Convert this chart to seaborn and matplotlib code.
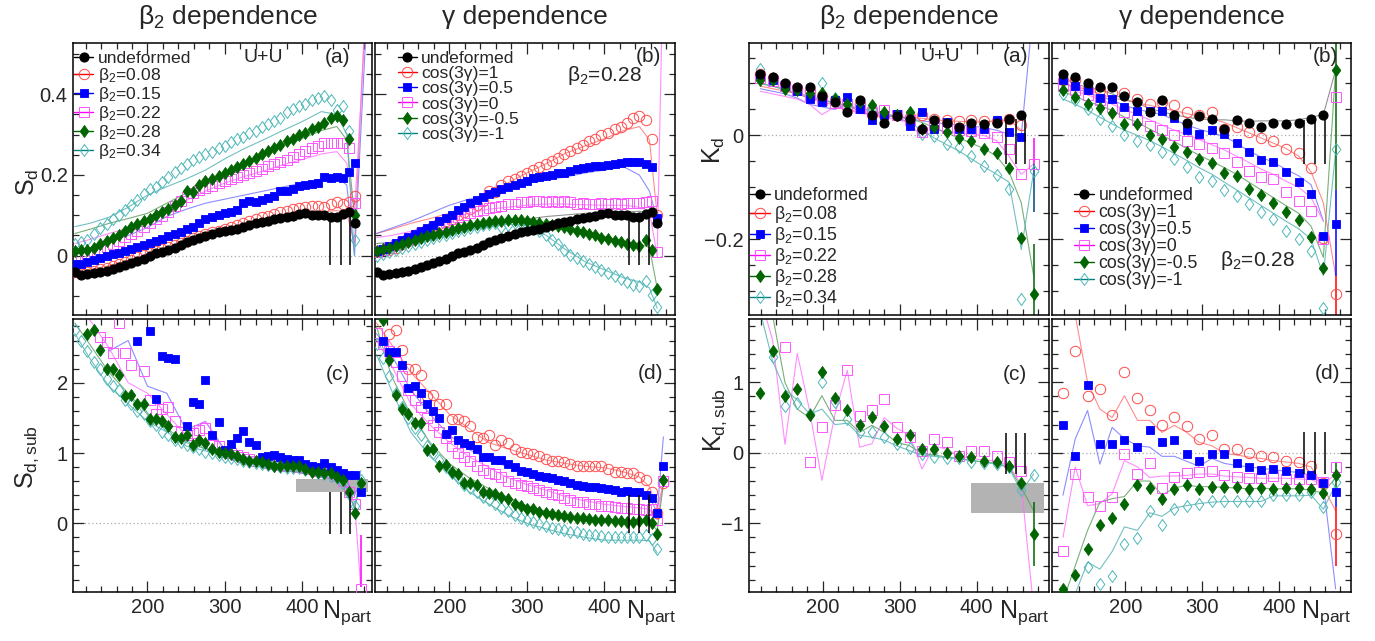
import numpy as np
import matplotlib
matplotlib.use("Agg")
import matplotlib.pyplot as plt
from matplotlib.lines import Line2D
from matplotlib.patches import Rectangle
from matplotlib.ticker import MultipleLocator, FuncFormatter
import seaborn as sns

nan = np.nan

# ------------------------------------------------------------------ data
NPART = [106, 114, 122, 131, 139, 147, 155, 163, 171, 179,
         187, 195, 203, 211, 219, 227, 235, 243, 251, 259,
         267, 275, 284, 292, 300, 308, 316, 324, 332, 340,
         348, 356, 364, 372, 380, 388, 396, 404, 413, 421,
         429, 437, 445, 453, 461, 468, 476]
NPART_LT = [106, 125, 150, 175, 200, 225, 250, 275, 300, 325, 350, 375, 400, 425, 445, 458, 468, 484]
NPART_LB = [106, 125, 150, 175, 200, 225, 250, 275, 300, 325, 350, 375, 400, 425, 445, 458, 468, 476]
NPART_K = [119, 135, 151, 167, 183, 199, 216, 232, 248, 264, 280, 296,
           313, 329, 345, 361, 377, 393, 409, 426, 442, 458, 474]

LEG_B2 = ["undeformed", "β$_2$=0.08", "β$_2$=0.15", "β$_2$=0.22", "β$_2$=0.28", "β$_2$=0.34"]
LEG_G = ["undeformed", "cos(3γ)=1", "cos(3γ)=0.5", "cos(3γ)=0", "cos(3γ)=-0.5", "cos(3γ)=-1"]

# S_d  (markers)
sd_undef = [-0.040, -0.047, -0.046, -0.044, -0.041, -0.037, -0.033, -0.028, -0.023, -0.018,
            -0.012, -0.007, -0.002, 0.006, 0.010, 0.015, 0.019, 0.027, 0.033, 0.038,
            0.043, 0.048, 0.053, 0.058, 0.061, 0.064, 0.067, 0.071, 0.075, 0.080,
            0.083, 0.087, 0.090, 0.094, 0.097, 0.099, 0.104, 0.105, 0.102, 0.102,
            0.100, 0.097, 0.095, 0.103, 0.107, 0.082, nan]
sd_b008 = [-0.040, -0.043, -0.041, -0.037, -0.033, -0.030, -0.026, -0.021, -0.015, -0.010,
           -0.004, 0.001, 0.006, 0.012, 0.017, 0.021, 0.026, 0.031, 0.037, 0.043,
           0.049, 0.053, 0.058, 0.062, 0.067, 0.071, 0.076, 0.082, 0.087, 0.090,
           0.095, 0.099, 0.104, 0.107, 0.111, 0.116, 0.119, 0.121, 0.123, 0.122,
           0.120, 0.128, 0.134, 0.128, 0.134, 0.148, nan]
sd_b015 = [-0.020, -0.020, -0.016, -0.011, -0.006, -0.001, 0.003, 0.007, 0.011, 0.016,
           0.022, 0.027, 0.032, 0.037, 0.042, 0.048, 0.054, 0.059, 0.065, 0.072,
           0.082, 0.090, 0.097, 0.102, 0.106, 0.109, 0.113, 0.130, 0.135, 0.132,
           0.139, 0.144, 0.148, 0.160, 0.161, 0.166, 0.172, 0.176, 0.177, 0.180,
           0.196, 0.193, 0.195, 0.193, 0.208, 0.230, nan]
sd_b022 = [-0.005, 0.000, 0.003, 0.008, 0.014, 0.021, 0.028, 0.037, 0.046, 0.053,
           0.061, 0.070, 0.082, 0.090, 0.099, 0.108, 0.122, 0.136, 0.146, 0.155,
           0.162, 0.167, 0.172, 0.180, 0.186, 0.191, 0.196, 0.200, 0.205, 0.210,
           0.214, 0.221, 0.226, 0.233, 0.238, 0.244, 0.251, 0.259, 0.267, 0.272,
           0.278, 0.280, 0.280, 0.278, 0.268, 0.130, nan]
sd_b028 = [0.012, 0.015, 0.013, 0.020, 0.029, 0.036, 0.043, 0.052, 0.062, 0.070,
           0.078, 0.085, 0.092, 0.100, 0.108, 0.116, 0.125, 0.135, 0.160, 0.158,
           0.175, 0.185, 0.191, 0.197, 0.205, 0.212, 0.219, 0.227, 0.234, 0.243,
           0.252, 0.260, 0.268, 0.275, 0.284, 0.290, 0.298, 0.305, 0.315, 0.320,
           0.330, 0.340, 0.345, 0.335, 0.290, 0.100, nan]
sd_b034 = [0.030, 0.035, 0.040, 0.054, 0.068, 0.078, 0.090, 0.100, 0.113, 0.125,
           0.138, 0.152, 0.165, 0.170, 0.183, 0.194, 0.207, 0.217, 0.226, 0.236,
           0.244, 0.251, 0.258, 0.266, 0.273, 0.281, 0.290, 0.295, 0.303, 0.309,
           0.318, 0.327, 0.333, 0.342, 0.355, 0.364, 0.372, 0.377, 0.385, 0.390,
           0.395, 0.385, 0.360, 0.370, 0.310, 0.040, nan]
sd_g05 = [0.012, 0.017, 0.023, 0.031, 0.038, 0.046, 0.053, 0.060, 0.068, 0.077,
          0.085, 0.093, 0.102, 0.112, 0.121, 0.131, 0.138, 0.146, 0.152, 0.159,
          0.165, 0.169, 0.174, 0.180, 0.186, 0.192, 0.196, 0.198, 0.201, 0.205,
          0.205, 0.209, 0.214, 0.217, 0.219, 0.221, 0.223, 0.225, 0.226, 0.230,
          0.233, 0.232, 0.232, 0.228, 0.220, 0.093, nan]
sd_g0 = [0.010, 0.014, 0.019, 0.026, 0.033, 0.040, 0.047, 0.055, 0.062, 0.069,
         0.076, 0.083, 0.090, 0.096, 0.101, 0.105, 0.110, 0.114, 0.117, 0.120,
         0.124, 0.127, 0.129, 0.132, 0.134, 0.135, 0.136, 0.134, 0.136, 0.132,
         0.135, 0.132, 0.128, 0.130, 0.127, 0.128, 0.130, 0.128, 0.130, 0.128,
         0.130, 0.130, 0.131, 0.132, 0.135, 0.010, nan]
sd_gm05 = [0.012, 0.016, 0.020, 0.025, 0.030, 0.034, 0.039, 0.044, 0.049, 0.052,
           0.056, 0.059, 0.063, 0.068, 0.072, 0.076, 0.078, 0.081, 0.084, 0.086,
           0.087, 0.088, 0.089, 0.088, 0.086, 0.084, 0.082, 0.079, 0.077, 0.074,
           0.070, 0.066, 0.062, 0.058, 0.054, 0.050, 0.045, 0.041, 0.037, 0.033,
           0.029, 0.026, 0.025, 0.040, 0.014, -0.082, nan]
sd_gm1 = [0.000, 0.004, 0.009, 0.014, 0.019, 0.024, 0.029, 0.034, 0.039, 0.044,
          0.048, 0.052, 0.056, 0.060, 0.064, 0.068, 0.072, 0.076, 0.078, 0.080,
          0.072, 0.077, 0.081, 0.080, 0.074, 0.068, 0.060, 0.051, 0.040, 0.028,
          0.014, 0.002, -0.006, -0.013, -0.020, -0.027, -0.035, -0.043, -0.051, -0.059,
          -0.066, -0.072, -0.075, -0.062, -0.097, -0.126, nan]

# S_d  (model curves)
sdl_b008 = [-0.035, -0.035, -0.025, -0.012, 0.003, 0.017, 0.030, 0.044, 0.057, 0.069, 0.081, 0.092, 0.102, 0.108, 0.112, 0.105, 0.030, 0.70]
sdl_b015 = [0.012, 0.020, 0.035, 0.050, 0.070, 0.097, 0.115, 0.130, 0.140, 0.150, 0.160, 0.170, 0.180, 0.190, 0.195, 0.175, 0.000, 0.60]
sdl_b022 = [0.030, 0.040, 0.055, 0.068, 0.085, 0.113, 0.137, 0.160, 0.180, 0.196, 0.210, 0.225, 0.238, 0.252, 0.258, 0.229, 0.105, 0.65]
sdl_b028 = [0.055, 0.065, 0.080, 0.092, 0.105, 0.130, 0.155, 0.180, 0.205, 0.228, 0.254, 0.272, 0.290, 0.310, 0.320, 0.287, 0.100, nan]
sdl_b034 = [0.072, 0.080, 0.095, 0.120, 0.150, 0.171, 0.190, 0.212, 0.240, 0.265, 0.287, 0.310, 0.332, 0.357, 0.350, 0.300, 0.000, nan]
sdl_undef = [0.030, 0.033, 0.040, 0.048, 0.058, 0.068, 0.076, 0.084, 0.091, 0.097, 0.101, 0.105, 0.107, 0.108, 0.110, 0.105, 0.090, nan]
sdl_g05 = [0.055, 0.068, 0.085, 0.105, 0.125, 0.140, 0.150, 0.165, 0.180, 0.188, 0.195, 0.205, 0.212, 0.220, 0.200, 0.160, 0.088, nan]
sdl_g0 = [0.045, 0.050, 0.060, 0.075, 0.090, 0.105, 0.115, 0.120, 0.125, 0.128, 0.128, 0.126, 0.125, 0.125, 0.120, 0.110, 0.000, 1.50]
sdl_gm05 = [0.020, 0.028, 0.040, 0.050, 0.060, 0.072, 0.080, 0.085, 0.085, 0.080, 0.072, 0.060, 0.048, 0.035, 0.030, 0.020, -0.080, nan]
sdl_gm1 = [0.005, 0.012, 0.025, 0.038, 0.050, 0.062, 0.072, 0.078, 0.075, 0.050, 0.015, -0.015, -0.035, -0.055, -0.065, -0.080, -0.130, nan]

# S_d,sub (markers)
sds_b015 = [nan, nan, nan, nan, nan, nan, nan, nan, nan, nan,
            2.60, nan, 2.74, 1.77, 2.38, 2.35, 2.33, nan, 1.38, 1.73,
            1.70, 2.04, 1.26, 1.44, 1.04, 1.13, 1.21, 1.32, 1.16, 1.11,
            0.95, 0.96, 0.97, 0.94, 0.92, 0.90, 0.90, 0.85, 0.82, 0.80,
            0.86, 0.80, 0.76, 0.71, 0.69, 0.69, 0.45]
sds_b022 = [nan, nan, nan, nan, 2.65, 2.58, 2.42, 2.85, 2.42, 2.25,
            nan, 2.16, 1.75, 1.55, 1.62, 1.66, 1.45, 1.30, 1.25, 1.28,
            1.33, 1.35, 1.12, 1.10, 1.02, 1.00, 0.97, 0.94, 0.91, 0.89,
            0.88, 0.86, 0.85, 0.83, 0.82, 0.82, 0.80, 0.79, 0.77, 0.75,
            0.73, 0.71, 0.68, 0.60, 0.45, 0.27, -0.94]
sds_b028 = [nan, nan, 2.69, 2.75, 2.46, 2.19, 2.19, 2.11, 1.81, 1.83,
            1.69, 1.69, 1.48, 1.48, 1.46, 1.38, 1.23, 1.21, 1.26, 1.11,
            1.18, 1.14, 1.05, 1.02, 1.00, 0.99, 0.96, 0.91, 0.89, 0.89,
            0.87, 0.84, 0.82, 0.82, 0.81, 0.82, 0.81, 0.77, 0.73, 0.73,
            0.71, 0.71, 0.66, 0.62, 0.44, 0.15, 0.58]
sds_b034 = [2.75, 2.60, 2.45, 2.30, 2.20, 2.05, 1.95, 1.90, 1.75, 1.70,
            1.60, 1.55, 1.45, 1.40, 1.30, 1.25, 1.18, 1.15, 1.12, 1.08,
            1.05, 1.02, 1.00, 0.97, 0.95, 0.93, 0.91, 0.89, 0.87, 0.86,
            0.85, 0.83, 0.81, 0.80, 0.79, 0.79, 0.78, 0.76, 0.74, 0.72,
            0.70, 0.68, 0.64, 0.58, 0.42, 0.25, 0.62]
sds_g05 = [nan, 2.60, 2.44, 2.44, 2.25, 1.92, 1.95, 1.85, 1.69, 1.60,
           1.50, 1.27, 1.33, 1.19, 1.14, 1.11, 1.05, 0.95, 0.95, 0.90,
           0.90, 0.85, 0.80, 0.75, 0.73, 0.70, 0.68, 0.66, 0.64, 0.62,
           0.60, 0.57, 0.55, 0.53, 0.52, 0.51, 0.50, 0.49, 0.47, 0.45,
           0.46, 0.45, 0.44, 0.40, 0.36, 0.14, 0.81]
sds_g0 = [2.70, 2.55, 2.45, 2.30, 2.10, 1.90, 1.75, 1.65, 1.50, 1.40,
          1.30, 1.22, 1.10, 1.00, 0.95, 0.88, 0.82, 0.76, 0.72, 0.70,
          0.66, 0.60, 0.57, 0.55, 0.53, 0.50, 0.48, 0.45, 0.42, 0.40,
          0.36, 0.33, 0.31, 0.30, 0.28, 0.27, 0.25, 0.24, 0.23, 0.22,
          0.22, 0.21, 0.20, 0.19, 0.20, 0.05, 0.60]
sds_gm05 = [nan, 2.89, 2.32, 1.82, 1.63, 1.55, 1.42, 1.42, 1.04, 1.05,
            0.81, 0.83, 0.73, 0.70, 0.58, 0.57, 0.55, 0.44, 0.43, 0.42,
            0.38, 0.34, 0.27, 0.24, 0.21, 0.20, 0.16, 0.14, 0.13, 0.12,
            0.10, 0.095, 0.08, 0.07, 0.06, 0.05, 0.04, 0.04, 0.03, 0.03,
            0.02, 0.02, 0.03, 0.05, 0.00, -0.15, 0.62]
sds_gm1 = [2.55, 2.35, 2.10, 1.85, 1.65, 1.50, 1.35, 1.25, 1.10, 1.00,
           0.90, 0.80, 0.72, 0.65, 0.55, 0.50, 0.45, 0.38, 0.33, 0.28,
           0.22, 0.17, 0.12, 0.08, 0.05, 0.02, -0.01, -0.04, -0.06, -0.08,
           -0.10, -0.12, -0.13, -0.15, -0.16, -0.17, -0.18, -0.19, -0.19, -0.20,
           -0.20, -0.20, -0.19, -0.17, -0.22, -0.36, nan]

# S_d,sub (model curves)
sdsl_b015 = [nan, nan, 2.45, 2.60, 1.95, 1.85, 1.33, 1.45, 1.05, 0.95, 0.90, 0.86, 0.83, 0.77, 0.71, 0.60, 0.40, 0.60]
sdsl_b022 = [nan, 2.90, 2.50, 2.00, 1.85, 1.55, 1.25, 1.45, 1.02, 0.93, 0.87, 0.83, 0.80, 0.75, 0.68, 0.50, 0.30, -0.90]
sdsl_b028 = [2.85, 2.55, 2.15, 1.85, 1.55, 1.35, 1.15, 1.06, 0.98, 0.90, 0.85, 0.81, 0.79, 0.73, 0.66, 0.52, 0.22, 0.55]
sdsl_b034 = [2.70, 2.35, 1.95, 1.70, 1.45, 1.30, 1.10, 1.03, 0.95, 0.88, 0.84, 0.80, 0.78, 0.72, 0.66, 0.50, 0.20, 0.75]
sdsl_g05 = [2.70, 2.40, 1.90, 1.55, 1.25, 1.05, 0.92, 0.80, 0.72, 0.66, 0.60, 0.55, 0.50, 0.46, 0.43, 0.38, 0.15, 1.23]
sdsl_g0 = [2.60, 2.25, 1.70, 1.40, 1.15, 0.95, 0.80, 0.65, 0.55, 0.47, 0.38, 0.32, 0.27, 0.24, 0.22, 0.20, 0.05, 0.60]
sdsl_gm05 = [2.80, 2.10, 1.55, 1.15, 0.85, 0.65, 0.50, 0.37, 0.25, 0.17, 0.12, 0.08, 0.05, 0.03, 0.03, 0.02, -0.10, 0.55]
sdsl_gm1 = [2.40, 1.90, 1.30, 0.95, 0.70, 0.45, 0.28, 0.12, 0.00, -0.08, -0.15, -0.20, -0.24, -0.24, -0.24, -0.25, -0.42, nan]

# K_d (markers)
kd_undef = [0.119, 0.112, 0.100, 0.094, 0.094, 0.075, 0.065, 0.045, 0.068, 0.039, 0.023, 0.037,
            0.032, 0.013, 0.030, 0.023, 0.016, 0.024, 0.021, 0.024, 0.032, 0.039, nan]
kd_b008 = [0.118, 0.110, 0.098, 0.092, 0.085, 0.075, 0.068, 0.055, 0.060, 0.045, 0.040, 0.040,
           0.035, 0.040, 0.032, 0.030, 0.028, 0.030, 0.028, 0.028, 0.032, 0.020, nan]
kd_b015 = [0.116, 0.106, 0.095, 0.085, 0.071, 0.065, 0.068, 0.074, 0.050, 0.029, 0.040, 0.042,
           0.019, 0.045, 0.012, 0.026, 0.013, 0.013, 0.012, 0.029, 0.006, -0.003, nan]
kd_b022 = [0.110, 0.105, 0.095, 0.088, 0.078, 0.068, 0.062, 0.060, 0.052, 0.045, 0.048, 0.040,
           0.030, 0.006, 0.020, 0.015, 0.010, 0.008, 0.005, -0.003, -0.026, -0.074, -0.055]
kd_b028 = [0.106, 0.106, 0.090, 0.087, 0.081, 0.082, 0.071, 0.061, 0.065, 0.058, 0.045, 0.039,
           0.045, 0.013, 0.017, 0.006, -0.005, -0.010, -0.026, -0.034, -0.063, -0.197, -0.306]
kd_b034 = [0.127, 0.110, 0.095, 0.090, 0.080, 0.100, 0.072, 0.060, 0.058, 0.050, 0.042, 0.040,
           0.030, 0.003, -0.002, -0.016, -0.023, -0.039, -0.058, -0.077, -0.103, -0.316, -0.068]
kd_g05 = [0.106, 0.095, 0.088, 0.072, 0.071, 0.054, 0.047, 0.047, 0.047, 0.034, 0.010, 0.002,
          0.011, 0.002, -0.015, -0.032, -0.047, -0.052, -0.071, -0.090, -0.113, -0.194, -0.170]
kd_g0 = [0.095, 0.087, 0.078, 0.068, 0.055, 0.045, 0.030, 0.019, 0.010, 0.000, -0.010, -0.016,
         -0.025, -0.034, -0.052, -0.068, -0.081, -0.084, -0.110, -0.126, -0.145, -0.200, 0.074]
kd_gm05 = [0.088, 0.074, 0.060, 0.052, 0.043, 0.021, 0.021, 0.000, -0.006, -0.023, -0.032, -0.045,
           -0.054, -0.073, -0.079, -0.103, -0.114, -0.131, -0.148, -0.163, -0.195, -0.256, 0.126]
kd_gm1 = [0.080, 0.068, 0.050, 0.032, 0.019, 0.000, -0.010, -0.019, -0.032, -0.045, -0.060, -0.081,
          -0.088, -0.105, -0.116, -0.132, -0.148, -0.161, -0.184, -0.200, -0.223, -0.332, -0.026]

# K_d (model curves)
kdl_b008 = [0.095, 0.090, 0.085, 0.080, 0.072, 0.065, 0.058, 0.050, 0.045, 0.040, 0.038, 0.036,
            0.034, 0.033, 0.030, 0.028, 0.027, 0.026, 0.026, 0.028, 0.030, 0.010, nan]
kdl_b015 = [0.090, 0.085, 0.080, 0.072, 0.060, 0.055, 0.050, 0.060, 0.045, 0.040, 0.038, 0.036,
            0.032, 0.028, 0.025, 0.022, 0.020, 0.018, 0.015, 0.010, 0.002, 0.000, 0.250]
kdl_b022 = [0.085, 0.080, 0.075, 0.070, 0.060, 0.040, 0.055, 0.050, 0.042, 0.040, 0.036, 0.030,
            0.025, -0.005, 0.010, 0.008, 0.005, 0.002, 0.000, -0.010, -0.040, -0.075, -0.055]
kdl_b028 = [0.100, 0.095, 0.088, 0.080, 0.072, 0.068, 0.062, 0.058, 0.052, 0.048, 0.042, 0.037,
            0.032, 0.025, 0.015, 0.005, -0.005, -0.015, -0.025, -0.040, -0.070, -0.130, -0.270]
kdl_b034 = [0.100, 0.095, 0.088, 0.082, 0.075, 0.070, 0.062, 0.055, 0.050, 0.045, 0.040, 0.035,
            0.025, 0.010, -0.005, -0.018, -0.030, -0.045, -0.060, -0.075, -0.090, -0.220, -0.070]
kdl_undef = [0.110, 0.100, 0.092, 0.088, 0.080, 0.070, 0.062, 0.052, 0.045, 0.040, 0.035, 0.032,
             0.030, 0.030, 0.028, 0.027, 0.028, 0.028, 0.028, 0.030, 0.035, 0.040, 0.126]
kdl_g05 = [0.100, 0.092, 0.082, 0.075, 0.068, 0.058, 0.050, 0.045, 0.040, 0.030, 0.020, 0.012,
           0.005, -0.002, -0.015, -0.030, -0.042, -0.052, -0.065, -0.078, -0.095, -0.165, nan]
kdl_g0 = [0.090, 0.085, 0.078, 0.070, 0.060, 0.050, 0.040, 0.030, 0.020, 0.010, 0.002, -0.008,
          -0.018, -0.028, -0.040, -0.052, -0.065, -0.075, -0.088, -0.100, -0.120, -0.165, nan]
kdl_gm05 = [0.085, 0.075, 0.065, 0.058, 0.048, 0.035, 0.025, 0.012, 0.000, -0.012, -0.025, -0.038,
            -0.050, -0.062, -0.075, -0.090, -0.105, -0.120, -0.135, -0.150, -0.175, -0.235, 0.126]
kdl_gm1 = [0.070, 0.060, 0.048, 0.035, 0.022, 0.010, 0.000, -0.010, -0.022, -0.035, -0.048, -0.062,
           -0.075, -0.090, -0.105, -0.120, -0.135, -0.150, -0.165, -0.180, -0.200, -0.270, -0.030]

# K_d,sub (markers)
kds_b022 = [nan, nan, 1.50, nan, -0.13, 0.36, 0.68, 1.17, 0.52, 0.61, 0.77, 0.36,
            0.22, 0.03, 0.20, 0.16, -0.04, 0.03, 0.03, -0.05, -0.13, -0.26, nan]
kds_b028 = [0.85, 1.44, 0.80, 0.91, 0.53, 1.14, 0.78, 0.61, 0.40, 0.51, 0.38, 0.20,
            0.25, 0.05, 0.06, 0.00, -0.05, -0.06, -0.11, -0.13, -0.19, -0.43, -1.15]
kds_b034 = [nan, 1.36, 0.67, 0.70, 0.55, 1.00, 0.72, 0.48, 0.29, 0.29, 0.22, 0.12,
            0.07, -0.02, -0.06, -0.07, -0.08, -0.13, -0.15, -0.16, -0.20, -0.53, -0.32]
kds_g05 = [0.40, -0.04, 0.96, 0.12, 0.12, 0.18, 0.08, 0.33, 0.15, 0.18, -0.02, -0.12,
           -0.02, -0.02, -0.14, -0.20, -0.24, -0.23, -0.26, -0.29, -0.31, -0.43, -0.56]
kds_g0 = [-1.39, -0.30, -0.62, -0.76, -0.63, -0.02, -0.30, -0.15, -0.50, -0.35, -0.28, -0.27,
          -0.26, -0.32, -0.35, -0.36, -0.36, -0.33, -0.37, -0.37, -0.37, -0.42, -0.20]
kds_gm05 = [-1.93, -1.73, -1.36, -1.03, -0.92, -0.73, -0.45, -0.50, -0.66, -0.52, -0.45, -0.52,
            -0.49, -0.48, -0.49, -0.51, -0.50, -0.51, -0.50, -0.50, -0.52, -0.57, -0.32]
kds_gm1 = [nan, nan, -1.62, -1.86, -1.75, -1.29, -1.21, -0.82, -1.03, -0.79, -0.75, -0.73,
           -0.69, -0.68, -0.68, -0.68, -0.68, -0.60, -0.60, -0.60, -0.56, -0.77, -0.42]

# K_d,sub (model curves)
kdsl_b022 = [2.20, 1.60, 0.12, 1.41, 0.60, -0.39, 0.55, 1.17, 0.08, 0.13, 0.50, 0.35,
             0.25, -0.23, 0.10, 0.05, -0.05, -0.08, -0.10, -0.12, -0.18, -0.45, -2.20]
kdsl_b028 = [2.20, 1.95, 1.00, 0.62, 0.50, 0.81, 0.46, 0.46, 0.29, 0.39, 0.29, 0.15,
             0.10, -0.01, -0.03, -0.06, -0.08, -0.11, -0.13, -0.15, -0.20, -0.49, -0.82]
kdsl_b034 = [2.00, 1.30, 0.90, 0.75, 0.55, 0.62, 0.40, 0.42, 0.25, 0.22, 0.18, 0.10,
             0.03, -0.03, -0.05, -0.07, -0.08, -0.11, -0.13, -0.16, -0.21, -0.55, -0.30]
kdsl_g05 = [-0.60, 0.20, 0.60, -0.16, 0.36, 0.20, 0.10, 0.08, -0.05, -0.05, -0.12, -0.19,
            -0.08, -0.15, -0.18, -0.20, -0.22, -0.24, -0.26, -0.28, -0.32, -0.45, -1.93]
kdsl_g0 = [-1.20, -0.20, -0.75, -0.72, -0.58, -0.11, -0.20, -0.35, -0.33, -0.33, -0.32, -0.30,
           -0.30, -0.33, -0.34, -0.35, -0.36, -0.36, -0.36, -0.37, -0.38, -0.45, -0.30]
kdsl_gm05 = [-2.10, -1.60, -1.10, -0.70, -0.65, -0.62, -0.40, -0.40, -0.60, -0.50, -0.46, -0.48,
             -0.48, -0.49, -0.50, -0.51, -0.50, -0.51, -0.51, -0.51, -0.53, -0.57, -0.35]
kdsl_gm1 = [-2.20, -2.00, -1.55, -1.65, -1.40, -1.05, -1.10, -0.85, -0.90, -0.78, -0.75, -0.72,
            -0.70, -0.69, -0.69, -0.69, -0.69, -0.61, -0.61, -0.61, -0.60, -0.80, -0.45]

# vertical error lines (x, ymin, ymax)
err_sd_a = ([436, 450, 462], [-0.023, -0.023, -0.023], [0.097, 0.100, 0.105])
err_sd_b = ([432, 445, 458], [-0.023, -0.023, -0.023], [0.100, 0.100, 0.105])
err_sds_c = ([436, 450, 462], [-0.15, -0.15, -0.15], [0.45, 0.45, 0.45])
err_sds_d = ([432, 445, 458], [-0.14, -0.14, -0.14], [0.40, 0.40, 0.40])
err_kd_a = ([438, 451, 463], [-0.055, -0.055, -0.055], [0.030, 0.032, 0.039])
err_kd_b = ([433, 447, 460], [-0.055, -0.055, -0.055], [0.030, 0.032, 0.039])
err_kds_c = ([438, 451, 463], [-0.30, -0.30, -0.30], [0.28, 0.28, 0.28])
err_kds_d = ([433, 447, 460], [-0.30, -0.30, -0.30], [0.29, 0.29, 0.29])
# coloured error bars of last points: (series, x, ymin, ymax)
err_last_kd_a = [("magenta", 474, -0.148, -0.005), ("cyan", 474, -0.148, -0.055), ("green", 474, -0.346, -0.21)]
err_last_kd_b = [("green", 474, -0.106, 0.18), ("blue", 474, -0.27, -0.106), ("red", 474, -0.35, -0.27)]
err_last_kds_c = [("green", 474, -1.60, -0.70)]
err_last_kds_d = [("red", 474, -1.60, -0.77), ("blue", 474, -0.77, -0.57), ("green", 474, -0.57, -0.13)]
err_last_sds_c = [("magenta", 476, -0.90, -0.17)]

# systematic boxes (x0, x1, y0, y1)
box_sds = (392, 485, 0.45, 0.63)
box_kds = (393, 487, -0.85, -0.43)

# ------------------------------------------------------------------ style
sns.set_style("ticks")
plt.rcParams['font.family'] = ['Liberation Sans', 'DejaVu Sans']
plt.rcParams['mathtext.fontset'] = 'custom'
plt.rcParams['mathtext.rm'] = 'Liberation Sans'
plt.rcParams['mathtext.it'] = 'Liberation Sans:italic'
plt.rcParams['mathtext.bf'] = 'Liberation Sans:bold'

DIAMOND = [(0, 1), (0.72, 0), (0, -1), (-0.72, 0), (0, 1)]

STY = {
    "black":   dict(marker='o', ms=6.5, mfc='black', mec='black', mew=0.8, lc='black', mc='#777777'),
    "red":     dict(marker='o', ms=7.5, mfc='none', mec='#ff4a4a', mew=0.7, lc='#ff0000', mc='#ff7070'),
    "blue":    dict(marker='s', ms=6.2, mfc='#0000ff', mec='#0000ff', mew=0.6, lc='#0000ff', mc='#7070ff'),
    "magenta": dict(marker='s', ms=6.8, mfc='none', mec='#ff55ff', mew=0.7, lc='#ff00ff', mc='#ff70ff'),
    "green":   dict(marker=DIAMOND, ms=8.6, mfc='#006400', mec='#006400', mew=0.6, lc='#006400', mc='#5a9a5a'),
    "cyan":    dict(marker=DIAMOND, ms=8.6, mfc='none', mec='#4fb8b8', mew=0.7, lc='#008080', mc='#4fb0b0'),
}
ORDER = ["black", "red", "blue", "magenta", "green", "cyan"]
DRAW_ORDER = ["red", "magenta", "cyan", "blue", "green", "black"]

fig = plt.figure(figsize=(13.75, 6.41), dpi=100)
W, H = 1375.0, 641.0


def axes_px(x0, x1, y0, y1):
    return fig.add_axes([x0 / W, 1 - y1 / H, (x1 - x0) / W, (y1 - y0) / H])


fmt = FuncFormatter(lambda v, p: f"{v:g}".replace('-', '\u2212'))


def setup(ax, xlim, ylim, ymaj, ymin, showx, showy):
    ax.set_xlim(*xlim)
    ax.set_ylim(*ylim)
    ax.xaxis.set_major_locator(MultipleLocator(100))
    ax.xaxis.set_minor_locator(MultipleLocator(20))
    ax.yaxis.set_major_locator(MultipleLocator(ymaj))
    ax.yaxis.set_minor_locator(MultipleLocator(ymin))
    ax.yaxis.set_major_formatter(fmt)
    ax.tick_params(which='both', direction='in', top=True, right=True, labelsize=14.5, pad=4)
    ax.tick_params(which='major', length=8, width=0.9)
    ax.tick_params(which='minor', length=4, width=0.9)
    if not showx:
        ax.tick_params(labelbottom=False)
    if not showy:
        ax.tick_params(labelleft=False)
    for s in ax.spines.values():
        s.set_linewidth(1.1)
        s.set_color('black')
    ax.set_xlabel("")
    ax.set_ylabel("")
    ax.axhline(0, color='#aaaaaa', lw=0.9, ls=(0, (1, 2)), zorder=0.5)


def draw(ax, xm, markers, xl, lines):
    for key, yv in lines:
        sns.lineplot(x=xl, y=yv, ax=ax, estimator=None, sort=False, color=STY[key]['mc'],
                     lw=0.8, alpha=0.8, legend=False, zorder=1)
    d = dict(markers)
    for key in DRAW_ORDER:
        if key not in d:
            continue
        st = STY[key]
        sns.lineplot(x=xm, y=d[key], ax=ax, estimator=None, sort=False, linestyle='',
                     marker=st['marker'], markersize=st['ms'], markerfacecolor=st['mfc'],
                     markeredgecolor=st['mec'], markeredgewidth=st['mew'], color=st['lc'],
                     legend=False, zorder=3)


def errs(ax, e, last=()):
    ax.vlines(e[0], e[1], e[2], colors='black', lw=1.1, zorder=4)
    for key, x, y0, y1 in last:
        ax.vlines([x], [y0], [y1], colors=STY[key]['lc'], lw=1.1, zorder=2)


def legend(ax, labels, x, y, spacing, fs):
    hs = []
    for key in ORDER:
        st = STY[key]
        hs.append(Line2D([], [], color=st['lc'], lw=1.0, marker=st['marker'], markersize=st['ms'],
                         markerfacecolor=st['mfc'], markeredgecolor=st['mec'],
                         markeredgewidth=st['mew']))
    ax.legend(hs, labels, loc='upper left', bbox_to_anchor=(x, y), frameon=False, fontsize=fs,
              handlelength=1.1, handletextpad=0.25, labelspacing=spacing, borderpad=0,
              borderaxespad=0)


XS = (104, 491)
XK = (104.7, 494)

# ---------------- S_d (a)
ax = axes_px(73.3, 372.3, 43, 315)
setup(ax, XS, (-0.147, 0.527), 0.2, 0.05, False, True)
draw(ax, NPART, [("black", sd_undef), ("red", sd_b008), ("blue", sd_b015), ("magenta", sd_b022),
                 ("green", sd_b028), ("cyan", sd_b034)],
     NPART_LT, [("red", sdl_b008), ("blue", sdl_b015), ("magenta", sdl_b022),
                ("green", sdl_b028), ("cyan", sdl_b034)])
errs(ax, err_sd_a)
legend(ax, LEG_B2, 0.003, 0.972, 0.0, 12.6)
ax.text(0.634, 0.945, "U+U", transform=ax.transAxes, ha='center', va='center', fontsize=14)
ax.text(0.885, 0.945, "(a)", transform=ax.transAxes, ha='center', va='center', fontsize=15)

# ---------------- S_d (b)
ax = axes_px(375, 675, 43, 315)
setup(ax, XS, (-0.147, 0.527), 0.2, 0.05, False, False)
draw(ax, NPART, [("black", sd_undef), ("red", sd_b028), ("blue", sd_g05), ("magenta", sd_g0),
                 ("green", sd_gm05), ("cyan", sd_gm1)],
     NPART_LT, [("black", sdl_undef), ("red", sdl_b028), ("blue", sdl_g05), ("magenta", sdl_g0),
                ("green", sdl_gm05), ("cyan", sdl_gm1)])
errs(ax, err_sd_b)
legend(ax, LEG_G, 0.075, 0.972, 0.0, 12.6)
ax.text(0.91, 0.952, "(b)", transform=ax.transAxes, ha='center', va='center', fontsize=15)
ax.text(0.765, 0.88, "β$_2$=0.28", transform=ax.transAxes, ha='center', va='center', fontsize=15)

# ---------------- S_d,sub (c)
ax = axes_px(73.3, 372.3, 319, 592)
setup(ax, XS, (-0.977, 2.906), 1, 0.2, True, True)
ax.add_patch(Rectangle((box_sds[0], box_sds[2]), box_sds[1] - box_sds[0], box_sds[3] - box_sds[2],
                       color='#b3b3b3', lw=0, zorder=0.8))
draw(ax, NPART, [("blue", sds_b015), ("magenta", sds_b022), ("green", sds_b028), ("cyan", sds_b034)],
     NPART_LB, [("blue", sdsl_b015), ("magenta", sdsl_b022), ("green", sdsl_b028), ("cyan", sdsl_b034)])
errs(ax, err_sds_c, err_last_sds_c)
ax.text(0.885, 0.795, "(c)", transform=ax.transAxes, ha='center', va='center', fontsize=15)

# ---------------- S_d,sub (d)
ax = axes_px(375, 675, 319, 592)
setup(ax, XS, (-0.977, 2.906), 1, 0.2, True, False)
draw(ax, NPART, [("red", sds_b028), ("blue", sds_g05), ("magenta", sds_g0), ("green", sds_gm05),
                 ("cyan", sds_gm1)],
     NPART_LB, [("red", sdsl_b028), ("blue", sdsl_g05), ("magenta", sdsl_g0), ("green", sdsl_gm05),
                ("cyan", sdsl_gm1)])
errs(ax, err_sds_d)
ax.text(0.917, 0.80, "(d)", transform=ax.transAxes, ha='center', va='center', fontsize=15)

# ---------------- K_d (a)
ax = axes_px(749.3, 1049, 43, 315)
setup(ax, XK, (-0.346, 0.178), 0.2, 0.05, False, True)
draw(ax, NPART_K, [("black", kd_undef), ("red", kd_b008), ("blue", kd_b015), ("magenta", kd_b022),
                   ("green", kd_b028), ("cyan", kd_b034)],
     NPART_K, [("red", kdl_b008), ("blue", kdl_b015), ("magenta", kdl_b022),
               ("green", kdl_b028), ("cyan", kdl_b034)])
errs(ax, err_kd_a, err_last_kd_a)
legend(ax, LEG_B2, 0.003, 0.47, 0.0, 12.8)
ax.text(0.636, 0.949, "U+U", transform=ax.transAxes, ha='center', va='center', fontsize=14)
ax.text(0.887, 0.949, "(a)", transform=ax.transAxes, ha='center', va='center', fontsize=15)

# ---------------- K_d (b)
ax = axes_px(1052, 1351, 43, 315)
setup(ax, XK, (-0.346, 0.178), 0.2, 0.05, False, False)
draw(ax, NPART_K, [("black", kd_undef), ("red", kd_b028), ("blue", kd_g05), ("magenta", kd_g0),
                   ("green", kd_gm05), ("cyan", kd_gm1)],
     NPART_K, [("black", kdl_undef), ("red", kdl_b028), ("blue", kdl_g05), ("magenta", kdl_g0),
               ("green", kdl_gm05), ("cyan", kdl_gm1)])
errs(ax, err_kd_b, err_last_kd_b)
legend(ax, LEG_G, 0.075, 0.47, 0.0, 12.8)
ax.text(0.913, 0.949, "(b)", transform=ax.transAxes, ha='center', va='center', fontsize=15)
ax.text(0.686, 0.20, "β$_2$=0.28", transform=ax.transAxes, ha='center', va='center', fontsize=15)

# ---------------- K_d,sub (c)
ax = axes_px(749.3, 1049, 319, 592)
setup(ax, XK, (-1.974, 1.898), 1, 0.2, True, True)
ax.add_patch(Rectangle((box_kds[0], box_kds[2]), box_kds[1] - box_kds[0], box_kds[3] - box_kds[2],
                       color='#b3b3b3', lw=0, zorder=0.8))
draw(ax, NPART_K, [("magenta", kds_b022), ("green", kds_b028), ("cyan", kds_b034)],
     NPART_K, [("magenta", kdsl_b022), ("green", kdsl_b028), ("cyan", kdsl_b034)])
errs(ax, err_kds_c, err_last_kds_c)
ax.text(0.887, 0.795, "(c)", transform=ax.transAxes, ha='center', va='center', fontsize=15)

# ---------------- K_d,sub (d)
ax = axes_px(1052, 1351, 319, 592)
setup(ax, XK, (-1.974, 1.898), 1, 0.2, True, False)
draw(ax, NPART_K, [("red", kds_b028), ("blue", kds_g05), ("magenta", kds_g0), ("green", kds_gm05),
                   ("cyan", kds_gm1)],
     NPART_K, [("red", kdsl_b028), ("blue", kdsl_g05), ("magenta", kdsl_g0), ("green", kdsl_gm05),
               ("cyan", kdsl_gm1)])
errs(ax, err_kds_d, err_last_kds_d)
ax.text(0.92, 0.80, "(d)", transform=ax.transAxes, ha='center', va='center', fontsize=15)

# ---------------- figure texts
for txt, xc in [("β$_2$ dependence", 228), ("γ dependence", 525),
                ("β$_2$ dependence", 909), ("γ dependence", 1202)]:
    fig.text(xc / W, 1 - 17 / H, txt, ha='center', va='center', fontsize=19)
for txt, xc, yc in [("S$_\\mathrm{d}$", 28, 182), ("S$_{\\mathrm{d,sub}}$", 27, 457),
                    ("K$_\\mathrm{d}$", 714, 150), ("K$_{\\mathrm{d,sub}}$", 715, 420)]:
    fig.text(xc / W, 1 - yc / H, txt, ha='center', va='center', rotation=90, fontsize=18)
for xr in [372, 676, 1049, 1351]:
    fig.text(xr / W, 1 - 598 / H, "N$_{\\mathrm{part}}$", ha='right', va='top', fontsize=18)

fig.savefig("out.png", dpi=100)
